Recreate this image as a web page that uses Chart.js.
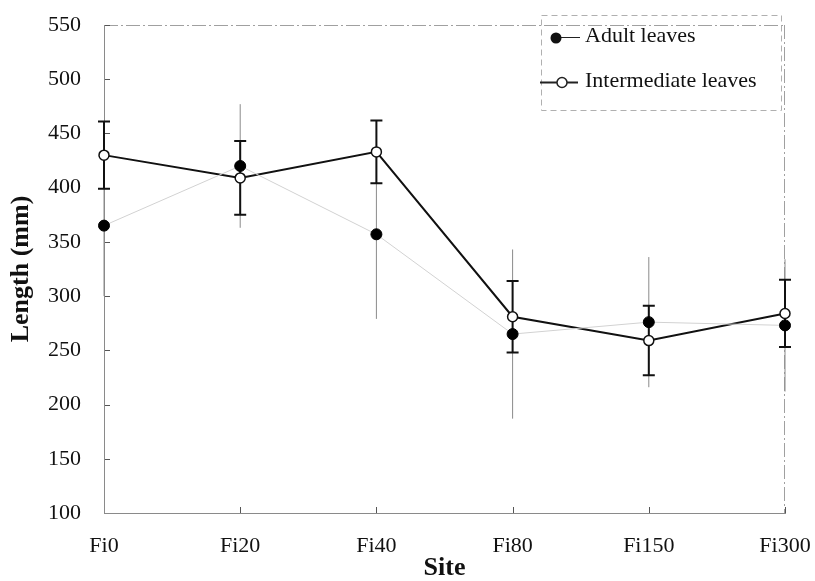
<!DOCTYPE html>
<html>
<head>
<meta charset="utf-8">
<script src="https://cdn.jsdelivr.net/npm/chart.js@4"></script>
<style>
  body { margin: 0; background: #fff; }
  #wrap { width: 815px; height: 581px; }
</style>
</head>
<body>
<div id="wrap"><canvas id="lenChart"></canvas></div>
<script>
const sites = ['Fi0', 'Fi20', 'Fi40', 'Fi80', 'Fi150', 'Fi300'];
const adultMean = [365, 420, 357, 265, 276, 273];
const adultErr = [65, 57, 78, 78, 60, 61];
const interMean = [430, 409, 433, 281, 259, 284];
const interErr = [31, 34, 29, 33, 32, 31];
const yTicks = [100, 150, 200, 250, 300, 350, 400, 450, 500, 550];

const serif = "'Liberation Serif', 'Times New Roman', serif";

// error bars, drawn under the points
const errorBars = {
  id: 'errorBars',
  beforeDatasetsDraw(chart) {
    const ctx = chart.ctx;
    const x = chart.scales.x, y = chart.scales.y;
    ctx.save();
    // adult: thin gray, no caps
    ctx.strokeStyle = '#8a8a8a';
    ctx.lineWidth = 1;
    adultMean.forEach((m, i) => {
      const px = x.getPixelForValue(i);
      ctx.beginPath();
      ctx.moveTo(px, y.getPixelForValue(m - adultErr[i]));
      ctx.lineTo(px, y.getPixelForValue(m + adultErr[i]));
      ctx.stroke();
    });
    // intermediate: black with caps
    ctx.strokeStyle = '#111';
    ctx.lineWidth = 2;
    interMean.forEach((m, i) => {
      const px = x.getPixelForValue(i);
      const lo = y.getPixelForValue(m - interErr[i]);
      const hi = y.getPixelForValue(m + interErr[i]);
      ctx.beginPath();
      ctx.moveTo(px, lo); ctx.lineTo(px, hi);
      ctx.moveTo(px - 6, lo); ctx.lineTo(px + 6, lo);
      ctx.moveTo(px - 6, hi); ctx.lineTo(px + 6, hi);
      ctx.stroke();
    });
    ctx.restore();
  }
};

// frame + crossing tick marks + legend box
const decor = {
  id: 'decor',
  beforeDraw(chart) {
    const ctx = chart.ctx;
    const a = chart.chartArea;
    const x = chart.scales.x, y = chart.scales.y;
    ctx.save();
    ctx.strokeStyle = '#a0a0a0';
    ctx.lineWidth = 1;
    ctx.setLineDash([14, 3, 2, 3]);
    ctx.beginPath();
    ctx.moveTo(a.left, a.top + 0.5); ctx.lineTo(a.right, a.top + 0.5);
    ctx.moveTo(a.right - 0.5, a.top); ctx.lineTo(a.right - 0.5, a.bottom);
    ctx.stroke();
    ctx.setLineDash([]);
    ctx.strokeStyle = '#555';
    yTicks.forEach(v => {
      const py = Math.round(y.getPixelForValue(v)) + 0.5;
      ctx.beginPath();
      ctx.moveTo(a.left, py); ctx.lineTo(a.left + 6, py);
      ctx.stroke();
    });
    sites.forEach((s, i) => {
      const px = Math.round(x.getPixelForValue(i)) + 0.5;
      ctx.beginPath();
      ctx.moveTo(px, a.bottom); ctx.lineTo(px, a.bottom - 6);
      ctx.stroke();
    });
    ctx.restore();
  },
  afterDraw(chart) {
    const ctx = chart.ctx;
    ctx.save();
    ctx.strokeStyle = '#b0b0b0';
    ctx.lineWidth = 1;
    ctx.setLineDash([6, 4]);
    ctx.strokeRect(541.5, 15.5, 240, 95);
    ctx.setLineDash([]);
    ctx.font = '22px ' + serif;
    ctx.fillStyle = '#111';
    ctx.textBaseline = 'middle';
    // Adult leaves
    ctx.strokeStyle = '#222';
    ctx.lineWidth = 1;
    ctx.beginPath(); ctx.moveTo(556, 37.5); ctx.lineTo(580, 37.5); ctx.stroke();
    ctx.beginPath(); ctx.arc(556, 38, 5.5, 0, Math.PI * 2); ctx.fill();
    ctx.fillText(chart.data.datasets[0].label, 585, 36);
    // Intermediate leaves
    ctx.lineWidth = 1.8;
    ctx.beginPath(); ctx.moveTo(540, 82.5); ctx.lineTo(578, 82.5); ctx.stroke();
    ctx.beginPath(); ctx.arc(562, 82.5, 5, 0, Math.PI * 2);
    ctx.fillStyle = '#fff'; ctx.fill(); ctx.lineWidth = 1.5; ctx.stroke();
    ctx.fillStyle = '#111';
    ctx.fillText(chart.data.datasets[1].label, 585, 81);
    ctx.restore();
  }
};

const ctx = document.getElementById('lenChart').getContext('2d');
const myChart = new Chart(ctx, {
  type: 'line',
  data: {
    labels: sites,
    datasets: [{
      label: 'Adult leaves',
      data: adultMean,
      borderColor: '#d2d2d2',
      borderWidth: 1,
      pointRadius: 5.5,
      pointBackgroundColor: '#000',
      pointBorderColor: '#000',
      pointBorderWidth: 1
    }, {
      label: 'Intermediate leaves',
      data: interMean,
      borderColor: '#111',
      borderWidth: 2,
      pointRadius: 5,
      pointBackgroundColor: '#fff',
      pointBorderColor: '#111',
      pointBorderWidth: 1.5
    }]
  },
  options: {
    responsive: true,
    maintainAspectRatio: false,
    animation: false,
    events: [],
    layout: { padding: { top: 25, right: 30, left: 0, bottom: 0 } },
    plugins: { legend: { display: false }, tooltip: { enabled: false } },
    scales: {
      x: {
        offset: false,
        afterFit: s => { s.height = 68; s.paddingLeft = 0; s.paddingRight = 0; },
        grid: { display: false, drawTicks: true, tickLength: 6, tickColor: '#555' },
        border: { color: '#8a8a8a', width: 1 },
        ticks: { color: '#111', font: { family: serif, size: 22 }, padding: 14, maxRotation: 0 },
        title: { display: true, text: 'Site', color: '#111', font: { family: serif, size: 26, weight: 'bold' }, padding: { top: 0, bottom: -3 } }
      },
      y: {
        min: 100,
        max: 550,
        afterFit: s => { s.width = 104; s.paddingTop = 0; s.paddingBottom = 0; },
        afterBuildTicks: s => { s.ticks = yTicks.map(v => ({ value: v })); },
        grid: { display: false, drawTicks: true, tickLength: 6, tickColor: '#555' },
        border: { color: '#8a8a8a', width: 1 },
        ticks: { color: '#111', font: { family: serif, size: 22 }, padding: 17 },
        title: { display: true, text: 'Length (mm)', color: '#111', font: { family: serif, size: 26, weight: 'bold' }, padding: { top: 6, bottom: 0 } }
      }
    }
  },
  plugins: [errorBars, decor]
});
</script>
</body>
</html>
